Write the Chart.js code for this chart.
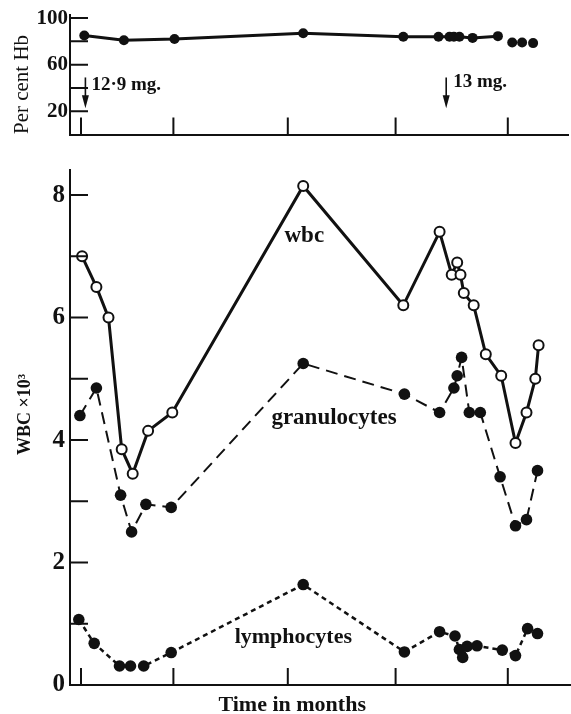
<!DOCTYPE html>
<html>
<head>
<meta charset="utf-8">
<script src="https://cdn.jsdelivr.net/npm/chart.js@4.4.1/dist/chart.umd.min.js"></script>
<style>
  html, body { margin: 0; padding: 0; background: #fff; }
  #wrap { position: relative; width: 571px; height: 714px; }
  canvas { position: absolute; left: 0; }
  #hb  { top: 0; }
  #wbc { top: 150px; }
</style>
</head>
<body>
<div id="wrap">
  <canvas id="hb" width="571" height="150"></canvas>
  <canvas id="wbc" width="571" height="564"></canvas>
</div>
<script>
// ── Data (time in months from first tick) ────────────────────
const TICK_MONTHS = [0, 0.84, 1.88, 2.86, 3.88];

const HB_MONTHS = [0.03, 0.39, 0.85, 2.02, 2.93, 3.25, 3.35, 3.39, 3.44, 3.56, 3.79, 3.92, 4.01, 4.11];
const HB_PCT    = [85, 81, 82, 87, 84, 84, 84, 84, 84, 83, 84.5, 79, 79, 78.5];
const HB_LINKED = 11; // last three readings are not joined

const WBC_MONTHS = [0.01, 0.14, 0.25, 0.37, 0.47, 0.61, 0.83, 2.02, 2.93, 3.26, 3.37,
                    3.42, 3.45, 3.48, 3.57, 3.68, 3.82, 3.95, 4.05, 4.13, 4.16];
const WBC        = [7.0, 6.5, 6.0, 3.85, 3.45, 4.15, 4.45, 8.15, 6.2, 7.4, 6.7,
                    6.9, 6.7, 6.4, 6.2, 5.4, 5.05, 3.95, 4.45, 5.0, 5.55];

const GRAN_MONTHS = [-0.01, 0.14, 0.36, 0.46, 0.59, 0.82, 2.02, 2.94, 3.26, 3.39, 3.42,
                     3.46, 3.53, 3.63, 3.81, 3.95, 4.05, 4.15];
const GRAN        = [4.4, 4.85, 3.1, 2.5, 2.95, 2.9, 5.25, 4.75, 4.45, 4.85, 5.05,
                     5.35, 4.45, 4.45, 3.4, 2.6, 2.7, 3.5];

const LYMPH_MONTHS = [-0.02, 0.12, 0.35, 0.45, 0.57, 0.82, 2.02, 2.94, 3.26, 3.40, 3.44,
                      3.47, 3.51, 3.60, 3.83, 3.95, 4.06, 4.15];
const LYMPH        = [1.07, 0.68, 0.31, 0.31, 0.31, 0.53, 1.64, 0.54, 0.87, 0.8, 0.58,
                      0.45, 0.63, 0.64, 0.57, 0.48, 0.92, 0.84];

const HB_TICKS  = [20, 40, 60, 80, 100];
const HB_LABELS = [20, 60, 100];
const WBC_TICKS  = [0, 1, 2, 3, 4, 5, 6, 7, 8];
const WBC_LABELS = [0, 2, 4, 6, 8];

const DOSES = [
  { month: 0.04, text: '12·9 mg.' },
  { month: 3.32, text: '13 mg.' },
];

// ── Style ────────────────────────────────────────────────────
const INK   = '#111';
const SERIF = '"Liberation Serif", "DejaVu Serif", serif';
const X_MIN = -0.1;

const pts = (xs, ys) => xs.map((x, i) => ({ x, y: ys[i] }));

function xAxis(max, height) {
  return {
    type: 'linear', min: X_MIN, max,
    grid:   { display: false, drawTicks: false },
    border: { display: true, color: INK, width: 2 },
    ticks:  { display: false },
    afterBuildTicks: (s) => { s.ticks = TICK_MONTHS.map((v) => ({ value: v })); },
    afterFit: (s) => { s.height = height; },
  };
}

function yAxis(min, max, tickVals, labelVals, fontSize, pad) {
  return {
    type: 'linear', min, max,
    grid:   { display: false, drawTicks: false },
    border: { display: true, color: INK, width: 2 },
    ticks: {
      autoSkip: false,
      color: INK,
      padding: pad,
      font: { family: SERIF, size: fontSize, weight: 'bold' },
      callback: (v) => (labelVals.includes(v) ? String(v) : ''),
    },
    afterBuildTicks: (s) => { s.ticks = tickVals.map((v) => ({ value: v })); },
    afterFit: (s) => { s.width = 70; },
  };
}

// inward tick marks on both axes
const innerTicks = {
  id: 'innerTicks',
  afterDraw(chart) {
    const { ctx, chartArea: a, scales: { x, y } } = chart;
    ctx.save();
    ctx.strokeStyle = INK;
    ctx.lineWidth = 2;
    ctx.beginPath();
    x.ticks.forEach((t) => {
      const px = x.getPixelForValue(t.value);
      ctx.moveTo(px, a.bottom);
      ctx.lineTo(px, a.bottom - 17);
    });
    y.ticks.forEach((t) => {
      if (t.value === 0) return;
      const py = y.getPixelForValue(t.value);
      ctx.moveTo(a.left, py);
      ctx.lineTo(a.left + 18, py);
    });
    ctx.stroke();
    ctx.restore();
  },
};

function text(ctx, str, x, y, font, align, rotate) {
  ctx.save();
  ctx.font = font;
  ctx.fillStyle = INK;
  ctx.textAlign = align || 'left';
  ctx.textBaseline = rotate ? 'middle' : 'alphabetic';
  ctx.translate(x, y);
  if (rotate) ctx.rotate(-Math.PI / 2);
  ctx.fillText(str, 0, 0);
  ctx.restore();
}

// ── Top panel: haemoglobin ───────────────────────────────────
new Chart(document.getElementById('hb'), {
  type: 'line',
  data: {
    datasets: [{
      data: pts(HB_MONTHS, HB_PCT),
      borderColor: INK,
      borderWidth: 3,
      pointRadius: 5,
      pointBackgroundColor: INK,
      pointBorderColor: INK,
      pointBorderWidth: 0,
      tension: 0,
      segment: { borderColor: (c) => (c.p0DataIndex >= HB_LINKED - 1 ? 'transparent' : INK) },
    }],
  },
  options: {
    responsive: false,
    animation: false,
    layout: { autoPadding: false, padding: { top: 13.5, right: 3, left: 0, bottom: 0 } },
    plugins: { legend: { display: false }, tooltip: { enabled: false } },
    scales: {
      x: xAxis(X_MIN + 498 / 110, 15.5),
      y: yAxis(0, 103, HB_TICKS, HB_LABELS, 21, 2),
    },
  },
  plugins: [innerTicks, {
    id: 'hbNotes',
    afterDraw(chart) {
      const { ctx, chartArea: a, scales: { x, y } } = chart;
      text(ctx, 'Per cent Hb', a.left - 48, y.getPixelForValue(43), `21px ${SERIF}`, 'center', true);
      DOSES.forEach((d, i) => {
        const px = x.getPixelForValue(d.month);
        const top = y.getPixelForValue(49);
        const tip = y.getPixelForValue(22.5);
        ctx.save();
        ctx.strokeStyle = INK;
        ctx.fillStyle = INK;
        ctx.lineWidth = 1.6;
        ctx.beginPath();
        ctx.moveTo(px, top);
        ctx.lineTo(px, tip - 6);
        ctx.stroke();
        ctx.beginPath();
        ctx.moveTo(px, tip);
        ctx.lineTo(px - 3.5, tip - 13);
        ctx.lineTo(px + 3.5, tip - 13);
        ctx.closePath();
        ctx.fill();
        ctx.restore();
        text(ctx, d.text, px + (i === 0 ? 6 : 7), y.getPixelForValue(i === 0 ? 38 : 40.5),
             `bold 19px ${SERIF}`, 'left');
      });
    },
  }],
});

// ── Bottom panel: white cells ────────────────────────────────
new Chart(document.getElementById('wbc'), {
  type: 'line',
  data: {
    datasets: [
      {
        label: 'wbc',
        data: pts(WBC_MONTHS, WBC),
        borderColor: INK,
        borderWidth: 3,
        pointRadius: 5,
        pointBackgroundColor: '#fff',
        pointBorderColor: INK,
        pointBorderWidth: 2,
        tension: 0,
      },
      {
        label: 'granulocytes',
        data: pts(GRAN_MONTHS, GRAN),
        borderColor: INK,
        borderWidth: 2,
        borderDash: [12, 7],
        pointRadius: 5.8,
        pointBackgroundColor: INK,
        pointBorderColor: INK,
        pointBorderWidth: 0,
        tension: 0,
      },
      {
        label: 'lymphocytes',
        data: pts(LYMPH_MONTHS, LYMPH),
        borderColor: INK,
        borderWidth: 2.5,
        borderDash: [5, 4],
        pointRadius: 5.8,
        pointBackgroundColor: INK,
        pointBorderColor: INK,
        pointBorderWidth: 0,
        tension: 0,
      },
    ],
  },
  options: {
    responsive: false,
    animation: false,
    layout: { autoPadding: false, padding: { top: 20, right: 0, left: 0, bottom: 0 } },
    plugins: { legend: { display: false }, tooltip: { enabled: false } },
    scales: {
      x: xAxis(X_MIN + 501 / 110, 29),
      y: yAxis(0, 8.41, WBC_TICKS, WBC_LABELS, 25, 5),
    },
  },
  plugins: [innerTicks, {
    id: 'wbcNotes',
    afterDraw(chart) {
      const { ctx, chartArea: a, scales: { x, y } } = chart;
      const f = `bold 23px ${SERIF}`;
      text(ctx, 'wbc',          x.getPixelForValue(2.03), y.getPixelForValue(7.23), f, 'center');
      text(ctx, 'granulocytes', x.getPixelForValue(2.30), y.getPixelForValue(4.26), f, 'center');
      text(ctx, 'lymphocytes',  x.getPixelForValue(1.93), y.getPixelForValue(0.69), `bold 22px ${SERIF}`, 'center');
      text(ctx, 'WBC ×10³', a.left - 45, y.getPixelForValue(4.42), `bold 18px ${SERIF}`, 'center', true);
      text(ctx, 'Time in months', x.getPixelForValue(1.92), a.bottom + 26, `bold 22px ${SERIF}`, 'center');
    },
  }],
});
</script>
</body>
</html>
